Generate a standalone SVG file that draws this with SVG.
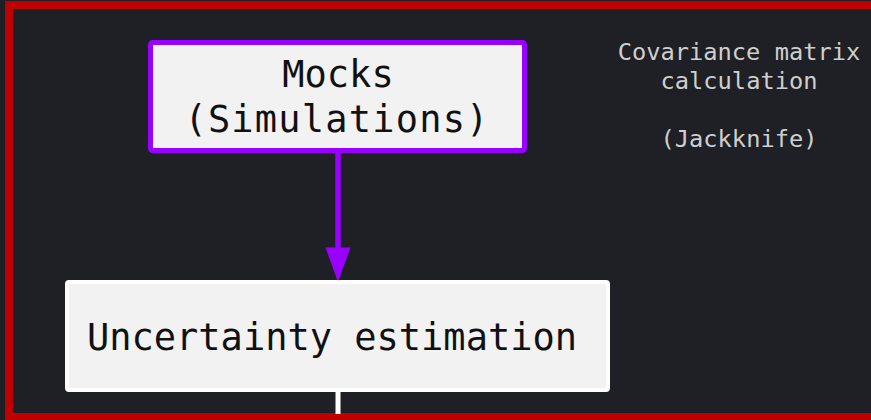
<svg xmlns="http://www.w3.org/2000/svg" width="871" height="420" viewBox="0 0 871 420">
<style>
.bg{fill:#1f2025}
.frame{fill:none;stroke:#c00000;stroke-width:8}
.box{fill:#f2f2f2}
.lbl{font-family:"DejaVu Sans Mono","Liberation Mono",monospace;font-size:37px;fill:#111;text-anchor:middle}
.note{font-family:"DejaVu Sans Mono","Liberation Mono",monospace;font-size:23.7px;fill:#cfcfcf;text-anchor:middle}
</style>
<rect class="bg" x="0" y="0" width="871" height="420"/>
<rect class="frame" x="9" y="5" width="900" height="412"/>
<g id="connectors">
<line x1="338" y1="153" x2="338" y2="250" stroke="#9900ff" stroke-width="5.5"/>
<polygon points="325.5,247.5 350.5,247.5 338,282" fill="#9900ff"/>
<line x1="338" y1="392" x2="338" y2="414" stroke="#ffffff" stroke-width="5"/>
</g>
<g id="mocks">
<rect class="box" x="150.5" y="42.5" width="374" height="108" rx="2" stroke="#9900ff" stroke-width="5"/>
<text class="lbl" x="338" y="86.5">Mocks</text>
<text class="lbl" x="337" y="131.5" letter-spacing="1.2">(Simulations)</text>
</g>
<g id="uncertainty">
<rect class="box" x="67" y="282" width="541" height="108" rx="2" stroke="#ffffff" stroke-width="4"/>
<text class="lbl" x="332" y="350">Uncertainty estimation</text>
</g>
<g id="covariance">
<text class="note" x="739" y="60">Covariance matrix</text>
<text class="note" x="739" y="88.5">calculation</text>
<text class="note" x="739" y="146.5">(Jackknife)</text>
</g>
</svg>
